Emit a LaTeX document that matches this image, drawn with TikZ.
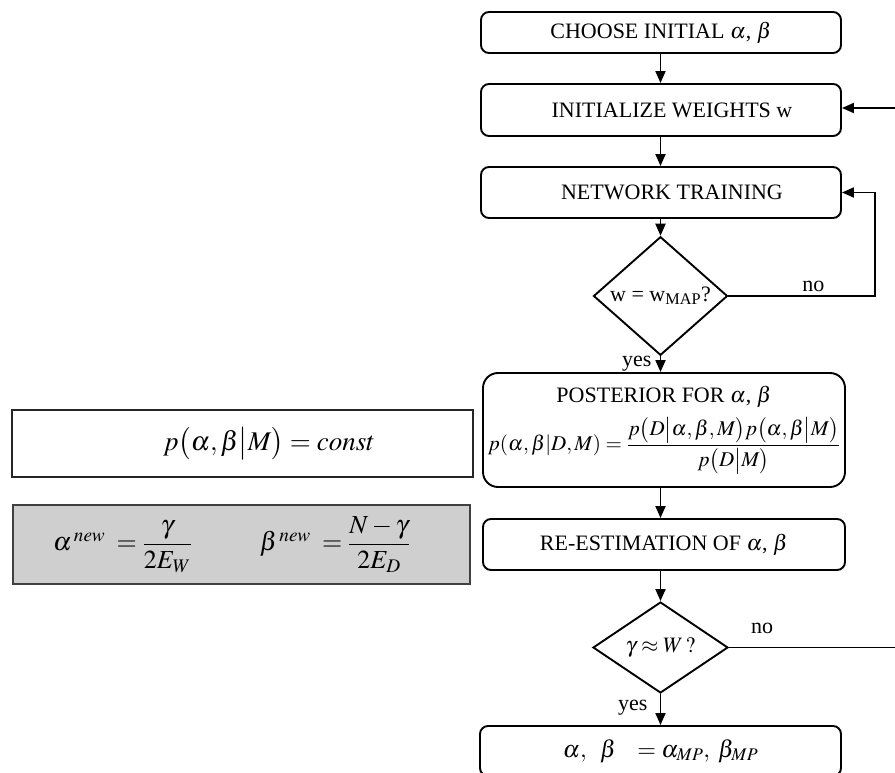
\documentclass[tikz,border=0pt]{standalone}
\usepackage{amsmath}
\usepackage{mathptmx}
\usepackage[no-math]{fontspec}
\setmainfont{Liberation Serif}
\usepackage{tikz}
\usetikzlibrary{shapes}
\usetikzlibrary{shapes.geometric}
\usetikzlibrary{arrows.meta}
\usetikzlibrary{positioning}

\definecolor{panelgray}{RGB}{207,207,207}

\begin{document}
\begin{tikzpicture}[x=1pt,y=-1pt]
\tikzstyle{box}=[rectangle,rounded corners=8pt,draw=black,line width=1.9pt,
inner sep=0pt,minimum width=360pt,minimum height=51pt,
font=\fontsize{22}{26}\selectfont]
\tikzstyle{decision}=[diamond,draw=black,line width=1.9pt,inner sep=0pt,
minimum width=134pt,minimum height=92pt,font=\fontsize{22}{26}\selectfont]
\tikzstyle{eqbox}=[rectangle,draw=black!85,line width=2pt,inner sep=0pt,
font=\fontsize{26}{30}\selectfont]
\tikzstyle{flow}=[line width=1.9pt,-{Triangle[length=12pt,width=10pt]}]
\tikzstyle{answer}=[font=\fontsize{22}{26}\selectfont,inner sep=3pt]
\useasboundingbox (0,0) rectangle (895,773);

% flow chart
\node[box,minimum height=41pt] (choose) at (661,32.5) {CHOOSE INITIAL $\alpha$, $\beta$};
\node[box,minimum height=52pt] (init) at (661,110) {\hspace*{22pt}INITIALIZE WEIGHTS w};
\node[box] (train) at (661,192.5) {\hspace*{22pt}NETWORK TRAINING};
\node[decision] (wmap) at (660.5,296) {w = w\textsubscript{MAP}?};
\node[box,rounded corners=15pt,minimum width=362pt,minimum height=114pt,
align=center] (posterior) at (664,430)
{POSTERIOR FOR $\alpha$, $\beta$\\[9pt]
{\fontsize{21}{25}\selectfont$p(\alpha,\beta|D,M)=\dfrac{p\bigl(D\big|\alpha,\beta,M\bigr)p\bigl(\alpha,\beta\big|M\bigr)}{p\bigl(D\big|M\bigr)}$}};
\node[box,minimum width=362pt] (reest) at (664,544.5) {RE-ESTIMATION OF $\alpha$, $\beta$};
\node[decision,minimum width=135pt,minimum height=91pt] (converged) at (660.5,647.5) {$\gamma\approx W\,?$};
\node[box,minimum width=361pt,minimum height=50pt,font=\fontsize{24}{28}\selectfont]
(final) at (660.5,751)
{$\alpha,\;\;\beta\;\;\;=\alpha_{MP},\;\beta_{MP}$};

% boxes on the left
\node[eqbox,minimum width=461pt,minimum height=67pt] (prior) at (242.5,443.5) {};
\node[font=\fontsize{27}{30}\selectfont] (priortext) at (269,443.5)
{$p\bigl(\alpha,\beta\big|M\bigr)=const$};
\node[eqbox,fill=panelgray,draw=black!75,line width=1.7pt,
minimum width=457pt,minimum height=79pt] (update) at (241.5,544.5)
{\hspace*{-20pt}$\alpha^{\,new}\;=\dfrac{\gamma}{2E_W}\hspace{68pt}\beta^{\,new}\;=\dfrac{N-\gamma}{2E_D}$};

\coordinate (loopa) at (875,296);
\coordinate (loopb) at (895,647.5);
\coordinate (loopc) at (895,108);

\draw[flow] (wmap.north |- choose.south) -- (wmap.north |- init.north);
\draw[flow] (wmap.north |- init.south) -- (wmap.north |- train.north);
\draw[flow] (wmap.north |- train.south) -- (wmap.north);
\draw[flow] (wmap.south) -- node[answer,left,pos=0.45,inner sep=8pt] {yes} (wmap.south |- posterior.north);
\draw[flow] (wmap.south |- posterior.south) -- (wmap.south |- reest.north);
\draw[flow] (wmap.south |- reest.south) -- (converged.north);
\draw[flow] (converged.south) -- node[answer,left,pos=0.45,inner sep=12pt] {yes} (converged.south |- final.north);
\draw[flow] (wmap.east) -- node[answer,above,pos=0.58] {no} (loopa) |- (train.east);
\draw[line width=1.9pt] (converged.east) -- node[answer,above,pos=0.2,yshift=10pt] {no} (loopb);
\draw[flow] (loopc) -- (init.east |- loopc);
\end{tikzpicture}
\end{document}
